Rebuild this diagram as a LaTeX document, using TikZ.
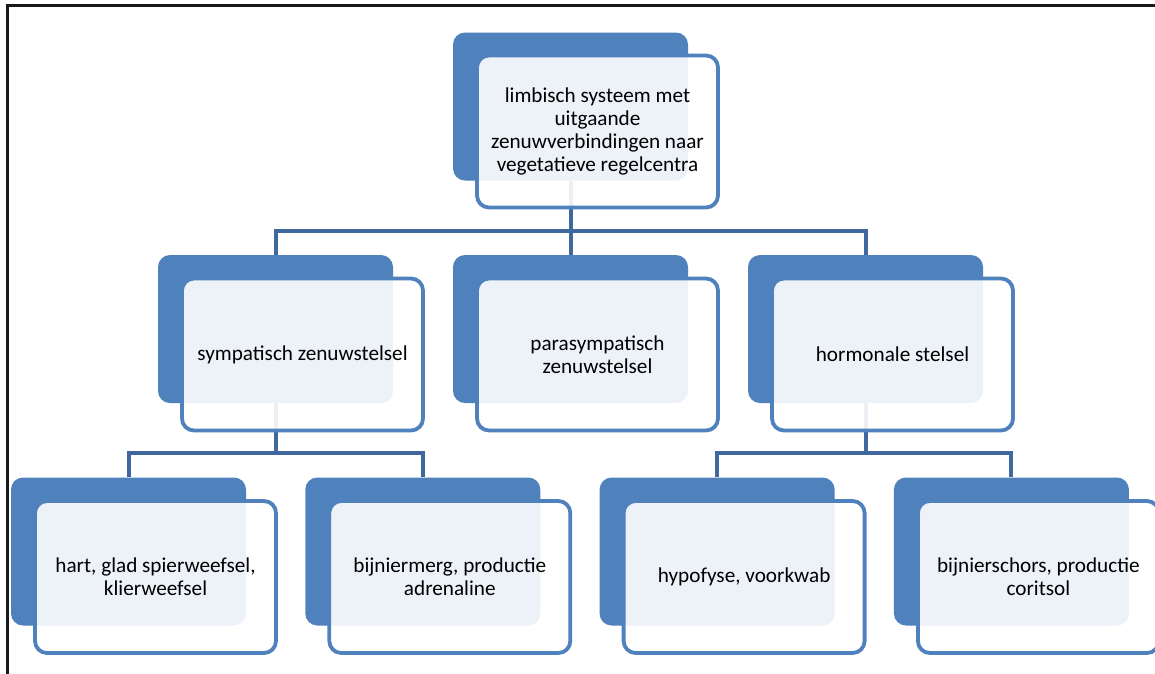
\documentclass[tikz,border=0pt]{standalone}
\usepackage{fontspec}
\setmainfont{Carlito}
\usepackage{tikz}
\usetikzlibrary{calc}
\definecolor{boxblue}{RGB}{79,129,189}
\definecolor{linkblue}{RGB}{62,104,158}

\begin{document}
\begin{tikzpicture}[x=1pt, y=-1pt,
  back/.style={fill=boxblue, rounded corners=12pt, minimum width=235pt,
               minimum height=148pt, inner sep=0pt},
  front/.style={draw=boxblue, line width=3.8pt, fill=white, fill opacity=0.9,
                text opacity=1, rounded corners=12pt, minimum width=241pt,
                minimum height=152pt, align=center, inner sep=0pt,
                font=\fontsize{21.2}{23.3}\selectfont},
  conn/.style={draw=linkblue, line width=4pt},
  frame/.style={draw=black!90, line width=2.4pt},
]
  \clip (0,0) rectangle (1155,673);
  \fill[white] (0,0) rectangle (1155,673);

  % outer frame
  \draw[frame] (1160,5.5) -| (7.5,680);

  % back boxes
  \node[back] (limb-b) at (570.5,106.5) {};
  \node[back] (symp-b) at (275.5,329) {};
  \node[back] (para-b) at (570.5,329) {};
  \node[back] (horm-b) at (865.5,329) {};
  \node[back] (hart-b) at (128.5,551.5) {};
  \node[back] (merg-b) at (422.8,551.5) {};
  \node[back] (hypo-b) at (717.1,551.5) {};
  \node[back] (schors-b) at (1011.4,551.5) {};

  % connectors
  \draw[conn] (limb-b.south) -- ++(0,50) -| (symp-b.north);
  \draw[conn] (limb-b.south) -- ++(0,50) -| (para-b.north);
  \draw[conn] (limb-b.south) -- ++(0,50) -| (horm-b.north);
  \draw[conn] (symp-b.south) -- ++(0,50) -| (hart-b.north);
  \draw[conn] (symp-b.south) -- ++(0,50) -| (merg-b.north);
  \draw[conn] (horm-b.south) -- ++(0,50) -| (hypo-b.north);
  \draw[conn] (horm-b.south) -- ++(0,50) -| (schors-b.north);

  % front boxes with text
  \node[front] (limb) at ([shift={(27,25)}]limb-b.center)
    {limbisch systeem met\\uitgaande\\zenuwverbindingen naar\\vegetatieve regelcentra};
  \node[front] (symp) at ([shift={(27,25.5)}]symp-b.center) {sympatisch zenuwstelsel};
  \node[front] (para) at ([shift={(27,25.5)}]para-b.center) {parasympatisch\\zenuwstelsel};
  \node[front] (horm) at ([shift={(27,25.5)}]horm-b.center) {hormonale stelsel};
  \node[front] (hart) at ([shift={(27,25.5)}]hart-b.center) {hart, glad spierweefsel,\\klierweefsel};
  \node[front] (merg) at ([shift={(27,25.5)}]merg-b.center) {bijniermerg, productie\\adrenaline};
  \node[front] (hypo) at ([shift={(27,25.5)}]hypo-b.center) {hypofyse, voorkwab};
  \node[front] (schors) at ([shift={(27,25.5)}]schors-b.center) {bijnierschors, productie\\coritsol};

\end{tikzpicture}
\end{document}
